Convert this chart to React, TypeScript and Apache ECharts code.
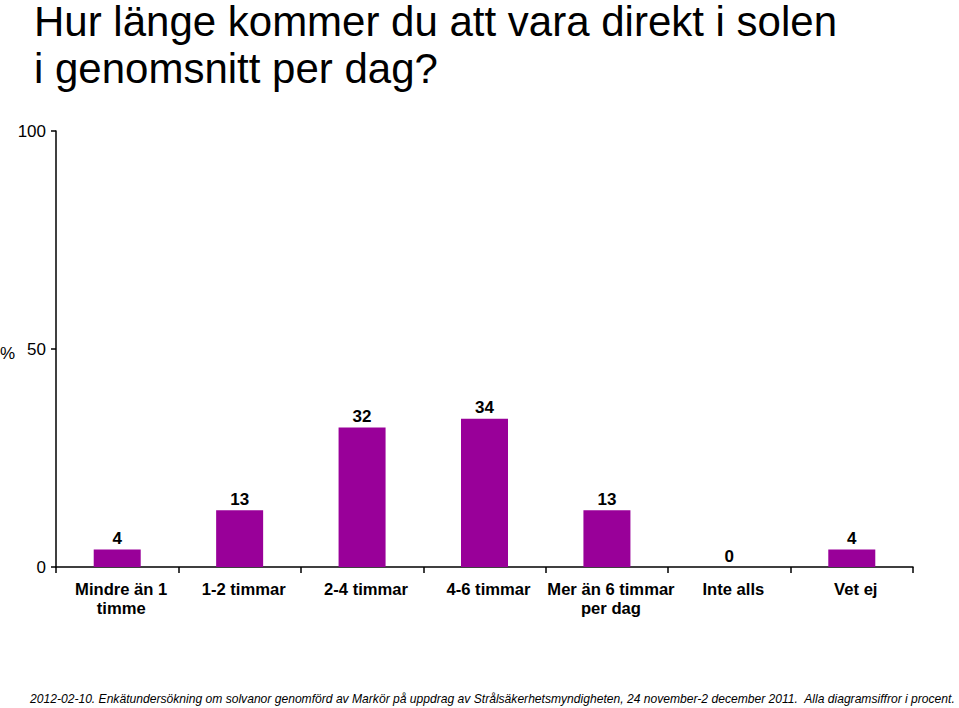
import React, { useEffect, useRef } from "react";
import * as echarts from "echarts";

const categories = ["Mindre än 1\ntimme", "1-2 timmar", "2-4 timmar", "4-6 timmar", "Mer än 6 timmar\nper dag", "Inte alls", "Vet ej"];
const values = [4, 13, 32, 34, 13, 0, 4];
const yTicks = [0, 50, 100];
const titleLines = ["Hur länge kommer du att vara direkt i solen", "i genomsnitt per dag?"];
const footerText = "2012-02-10. Enkätundersökning om solvanor genomförd av Markör på uppdrag av Strålsäkerhetsmyndigheten, 24 november-2 december 2011.  Alla diagramsiffror i procent.";

export default function App() {
  const ref = useRef<HTMLDivElement>(null);
  useEffect(() => {
    if (!ref.current) return;
    const chart = echarts.init(ref.current, null, { renderer: "svg" });
    const font = "Liberation Sans, Arial, sans-serif";
    chart.setOption({
      animation: false,
      backgroundColor: "#ffffff",
      textStyle: { fontFamily: font },
      grid: { left: 56, right: 46, top: 131, bottom: 141, containLabel: false },
      xAxis: {
        type: "category",
        data: categories,
        axisLine: { lineStyle: { color: "#000", width: 1.5 } },
        axisTick: { show: true, length: 6, lineStyle: { color: "#000", width: 1.5 } },
        axisLabel: {
          color: "#000",
          fontSize: 16.6,
          fontWeight: "bold",
          fontFamily: font,
          margin: 13,
          lineHeight: 19,
          interval: 0,
          padding: [0, 0, 0, 8],
        },
      },
      yAxis: {
        type: "value",
        min: 0,
        max: 100,
        interval: 50,
        splitLine: { show: false },
        axisLine: { show: true, lineStyle: { color: "#000", width: 1.5 } },
        axisTick: { show: true, length: 5, lineStyle: { color: "#000", width: 1.5 } },
        axisLabel: {
          color: "#000",
          fontSize: 17,
          fontFamily: font,
          margin: 10,
          formatter: (v: number) => (yTicks.includes(v) ? String(v) : ""),
        },
      },
      series: [
        {
          type: "bar",
          data: values,
          barWidth: 47,
          itemStyle: { color: "#990099" },
          label: {
            show: true,
            position: "top",
            distance: 2.5,
            color: "#000",
            fontSize: 17,
            fontWeight: "bold",
            fontFamily: font,
          },
        },
      ],
      graphic: [
        {
          type: "text",
          left: 34,
          top: 0,
          style: { text: titleLines[0], fontSize: 42, fill: "#000", fontFamily: font },
        },
        {
          type: "text",
          left: 34,
          top: 47,
          style: { text: titleLines[1], fontSize: 42, fill: "#000", fontFamily: font },
        },
        {
          type: "text",
          left: 0,
          top: 345,
          style: { text: "%", fontSize: 17, fill: "#000", fontFamily: font },
        },
        {
          type: "text",
          left: 30,
          top: 693,
          style: { text: footerText, fontSize: 12.1, fontStyle: "italic", fill: "#000", fontFamily: font },
        },
      ],
    });
    return () => chart.dispose();
  }, []);
  return <div ref={ref} style={{ width: 959, height: 708, position: "absolute", left: 0, top: 0 }} />;
}
